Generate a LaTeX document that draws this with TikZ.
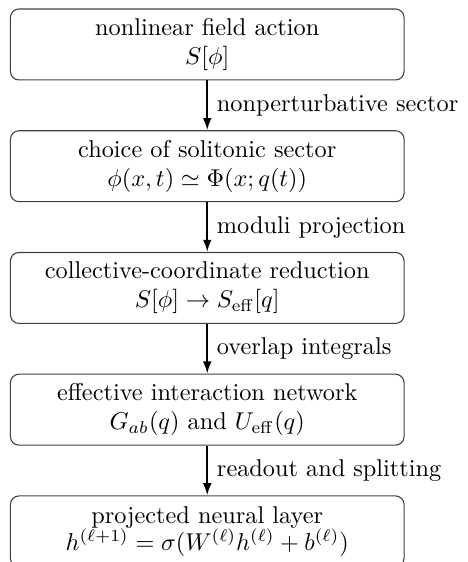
\documentclass[tikz,border=0pt]{standalone}
\usetikzlibrary{arrows.meta}
\begin{document}
\begin{tikzpicture}[x=1pt,y=1pt,
  stagebox/.style={draw=black!75, line width=0.45pt, rounded corners=3.5pt,
    minimum width=162pt, minimum height=29.2pt, align=center, inner sep=2pt},
  flow/.style={-{Latex[length=5pt,width=3.6pt]}, line width=0.8pt},
  flowlabel/.style={right, inner sep=3.6pt}]
\useasboundingbox (0,0) rectangle (192.6,-231.3);
\node[stagebox] (n1) at (85.3,-18.3) {nonlinear field action\\ $S[\phi]$};
\node[stagebox] (n2) at (85.3,-68.4) {choice of solitonic sector\\ $\phi(x,t)\simeq\Phi(x;q(t))$};
\node[stagebox] (n3) at (85.3,-118.5) {collective-coordinate reduction\\ $S[\phi]\to S_{\mathrm{eff}}[q]$};
\node[stagebox] (n4) at (85.3,-168.6) {effective interaction network\\ $G_{ab}(q)$ and $U_{\mathrm{eff}}(q)$};
\node[stagebox] (n5) at (85.3,-218.7) {projected neural layer\\[-0.9pt] $h^{(\ell+1)}=\sigma(W^{(\ell)}h^{(\ell)}+b^{(\ell)})$};
\draw[flow] (n1) -- node[flowlabel] {nonperturbative sector} (n2);
\draw[flow] (n2) -- node[flowlabel] {moduli projection} (n3);
\draw[flow] (n3) -- node[flowlabel] {overlap integrals} (n4);
\draw[flow] (n4) -- node[flowlabel] {readout and splitting} (n5);
\end{tikzpicture}
\end{document}
